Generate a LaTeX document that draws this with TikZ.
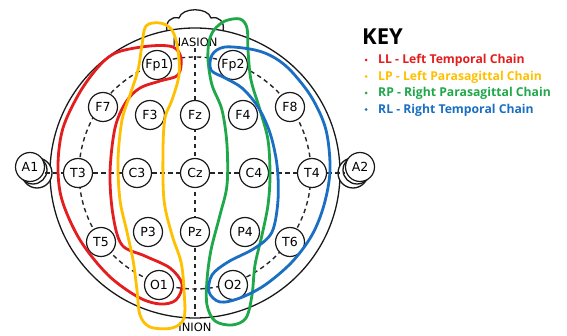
\documentclass[tikz,border=0pt]{standalone}
\usepackage{fontspec}
\setmainfont{DejaVu Sans}
\newfontfamily\keyfont{Open Sans}
\definecolor{llred}{HTML}{E41E1E}
\definecolor{lpgold}{HTML}{FFC000}
\definecolor{rpgreen}{HTML}{1FA84A}
\definecolor{rlblue}{HTML}{1B6FC2}
\begin{document}
\begin{tikzpicture}[x=1pt,y=-1pt,
  outline/.style={draw=black!90,line width=1.3pt},
  guide/.style={draw=black!85,line width=1.4pt,dash pattern=on 4.5pt off 3.5pt},
  electrode/.style={circle,draw=black!90,line width=1.2pt,fill=white,
    minimum size=29pt,inner sep=0pt,font=\fontsize{12.5}{12.5}\selectfont},
  earpart/.style={outline,fill=white},
  landmark/.style={font=\fontsize{11.5}{11.5}\selectfont,inner sep=1pt},
  chain/.style={line width=2.8pt,line join=round},
  keyhead/.style={font=\keyfont\bfseries\fontsize{22}{22}\selectfont,anchor=base west,inner sep=0pt},
  keyitem/.style={font=\keyfont\bfseries\fontsize{12.2}{12.2}\selectfont,anchor=base west,inner sep=0pt},
  keydot/.style={circle,fill,inner sep=0pt,minimum size=3pt}]

\useasboundingbox (0,0) rectangle (567,336);
\fill[white] (0,0) rectangle (567,336);

% head and nose
\draw[outline] (195,173) circle[radius=145pt];
\draw[outline] (167,31) .. controls (165,22) and (171,16) .. (179,18)
  .. controls (182,7) and (208,7) .. (211,18)
  .. controls (219,16) and (225,22) .. (223,31);

% ears: lobe and shadow ring behind each reference electrode
\draw[earpart] (37,173) circle[radius=15pt];
\draw[earpart] (33,170) circle[radius=14pt];
\draw[earpart] (353,173) circle[radius=15pt];
\draw[earpart] (357,170) circle[radius=14pt];

% 10-20 guide lines
\draw[guide] (195,173) circle[radius=116pt];
\draw[guide] (195,48) -- (195,316);

% electrodes
\node[electrode] (Fp1) at (157,65) {Fp1};
\node[electrode] (Fp2) at (233,65) {Fp2};
\node[electrode] (F7) at (103,107) {F7};
\node[electrode] (F3) at (150,115) {F3};
\node[electrode] (Fz) at (195,115) {Fz};
\node[electrode] (F4) at (243,115) {F4};
\node[electrode] (F8) at (290,107) {F8};
\node[electrode] (A1) at (30,167) {A1};
\node[electrode] (T3) at (78,173) {T3};
\node[electrode] (C3) at (137,173) {C3};
\node[electrode] (Cz) at (195,173) {Cz};
\node[electrode] (C4) at (254,173) {C4};
\node[electrode] (T4) at (312,173) {T4};
\node[electrode] (A2) at (360,167) {A2};
\node[electrode] (T5) at (101,242) {T5};
\node[electrode] (P3) at (148,232) {P3};
\node[electrode] (Pz) at (195,232) {Pz};
\node[electrode] (P4) at (245,232) {P4};
\node[electrode] (T6) at (290,242) {T6};
\node[electrode] (O1) at (159,285) {O1};
\node[electrode] (O2) at (233,285) {O2};

% horizontal guide between the ears
\foreach \a/\b in {A1/T3,T3/C3,C3/Cz,Cz/C4,C4/T4,T4/A2}
  \draw[guide] (\a.east |- Cz) -- (\b.west |- Cz);

\node[landmark] (nasion) at (195,42) {NASION};
\node[landmark] (inion) at (195,327) {INION};

% montage chains
\draw[chain,llred] plot[smooth cycle,tension=0.55] coordinates {
  (118,52) (150,46) (173,47) (181,58) (178,75) (160,81) (140,88) (126,102)
  (115,128) (110,173) (113,215) (122,245) (145,256) (170,268) (182,284)
  (176,300) (160,304) (138,297) (108,275) (80,240) (62,200) (58,165)
  (63,128) (80,92) (100,65)};
\draw[chain,lpgold] plot[smooth cycle,tension=0.55] coordinates {
  (146,26) (160,23) (172,30) (178,50) (179,75) (172,100) (165,118) (163,150)
  (164,200) (172,235) (181,262) (184,290) (184,318) (172,328) (150,327)
  (140,315) (137,290) (133,260) (127,232) (120,200) (118,160) (122,120)
  (130,95) (138,70) (142,45)};
\draw[chain,rpgreen] plot[smooth cycle,tension=0.55] coordinates {
  (214,30) (225,21) (240,19) (247,28) (248,50) (251,80) (260,110) (268,140)
  (270,175) (268,205) (262,235) (255,265) (252,295) (246,318) (232,325)
  (215,321) (207,305) (207,280) (211,250) (220,215) (227,185) (227,145)
  (222,110) (212,85) (208,60) (209,42)};
\draw[chain,rlblue] plot[smooth cycle,tension=0.55] coordinates {
  (212,55) (225,47) (255,50) (275,58) (292,72) (312,98) (326,130) (330,170)
  (324,205) (312,235) (292,262) (265,285) (240,298) (220,302) (209,292)
  (212,275) (228,262) (255,248) (272,232) (278,200) (277,165) (270,133)
  (258,107) (242,88) (225,78) (211,70)};

% key
\node[keyhead] (key) at (362,45) {KEY};
\node[keyitem,llred] (kLL) at (378,64) {LL - Left Temporal Chain};
\node[keyitem,lpgold] (kLP) at (378,80.5) {LP - Left Parasagittal Chain};
\node[keyitem,rpgreen] (kRP) at (378,97) {RP - Right Parasagittal Chain};
\node[keyitem,rlblue] (kRL) at (378,113.5) {RL - Right Temporal Chain};
\foreach \k/\c in {kLL/llred,kLP/lpgold,kRP/rpgreen,kRL/rlblue}
  \node[keydot,\c] at ([xshift=-12pt,yshift=4pt]\k.base west) {};
\end{tikzpicture}
\end{document}
